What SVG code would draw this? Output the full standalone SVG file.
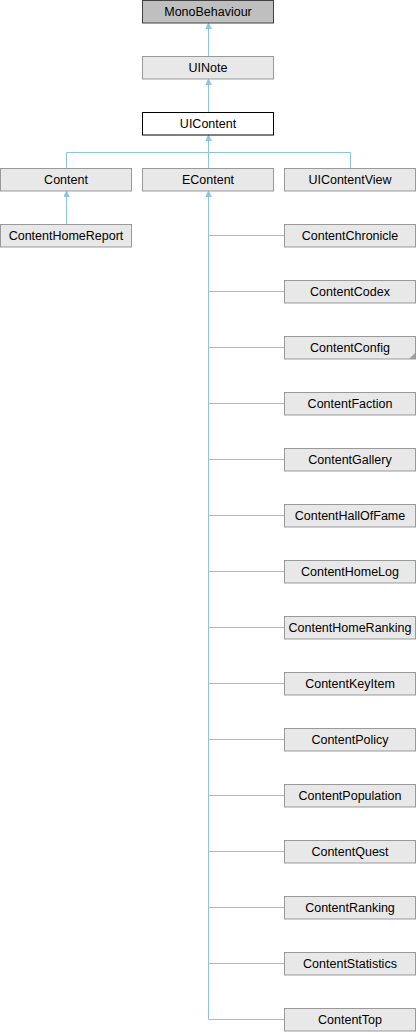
<svg xmlns="http://www.w3.org/2000/svg" width="416" height="1032" viewBox="0 0 416 1032">
<style>
rect{stroke-width:1}
.n rect{fill:#e8e8e8;stroke:#999999}
.base rect{fill:#bfbfbf;stroke:#404040}
.cur rect{fill:#ffffff;stroke:#000000}
text{font-family:"Liberation Sans",Arial,sans-serif;font-size:12.5px;fill:#000;text-anchor:middle}
.e{fill:none;stroke:#8ac3e6;stroke-width:1}
.up{marker-start:url(#arr)}
</style>
<defs>
<marker id="arr" viewBox="0 0 10 10" refX="10" refY="5" markerWidth="6" markerHeight="6" markerUnits="userSpaceOnUse" orient="auto-start-reverse">
<path d="M0,0 L10,5 L0,10 z" fill="#8ac3e6" stroke="#8ac3e6"/>
</marker>
</defs>
<g id="connectors">
<path class="e up" d="M208.5,23 V56.5"/>
<path class="e up" d="M208.5,79 V112.5"/>
<path class="e up" d="M208.5,135 V152.5 H66.5 V168.5 M208.5,152.5 H350.5 V168.5 M208.5,152.5 V168.5"/>
<path class="e up" d="M66.5,191 V224.5"/>
<path class="e up" d="M208.5,191 V1019.5 H284.5"/>
<path class="e" d="M208.5,235.5 H284.5"/>
<path class="e" d="M208.5,291.5 H284.5"/>
<path class="e" d="M208.5,347.5 H284.5"/>
<path class="e" d="M208.5,403.5 H284.5"/>
<path class="e" d="M208.5,459.5 H284.5"/>
<path class="e" d="M208.5,515.5 H284.5"/>
<path class="e" d="M208.5,571.5 H284.5"/>
<path class="e" d="M208.5,627.5 H284.5"/>
<path class="e" d="M208.5,683.5 H284.5"/>
<path class="e" d="M208.5,739.5 H284.5"/>
<path class="e" d="M208.5,795.5 H284.5"/>
<path class="e" d="M208.5,851.5 H284.5"/>
<path class="e" d="M208.5,907.5 H284.5"/>
<path class="e" d="M208.5,963.5 H284.5"/>
</g>
<g id="MonoBehaviour" class="base"><rect x="142.5" y="0.5" width="131" height="22.5"/><text x="208" y="16">MonoBehaviour</text></g>
<g id="UINote" class="n"><rect x="142.5" y="56.5" width="131" height="22.5"/><text x="208" y="72">UINote</text></g>
<g id="UIContent" class="cur"><rect x="142.5" y="112.5" width="131" height="22.5"/><text x="208" y="128">UIContent</text></g>
<g id="Content" class="n"><rect x="0.5" y="168.5" width="131" height="22.5"/><text x="66" y="184">Content</text></g>
<g id="EContent" class="n"><rect x="142.5" y="168.5" width="131" height="22.5"/><text x="208" y="184">EContent</text></g>
<g id="UIContentView" class="n"><rect x="284.5" y="168.5" width="131" height="22.5"/><text x="350" y="184">UIContentView</text></g>
<g id="ContentHomeReport" class="n"><rect x="0.5" y="224.5" width="131" height="22.5"/><text x="66" y="240">ContentHomeReport</text></g>
<g id="ContentChronicle" class="n"><rect x="284.5" y="224.5" width="131" height="22.5"/><text x="350" y="240">ContentChronicle</text></g>
<g id="ContentCodex" class="n"><rect x="284.5" y="280.5" width="131" height="22.5"/><text x="350" y="296">ContentCodex</text></g>
<g id="ContentConfig" class="n"><rect x="284.5" y="336.5" width="131" height="22.5"/><text x="350" y="352">ContentConfig</text><polygon points="409,359 415,359 415,353" fill="#a0a0a0"/></g>
<g id="ContentFaction" class="n"><rect x="284.5" y="392.5" width="131" height="22.5"/><text x="350" y="408">ContentFaction</text></g>
<g id="ContentGallery" class="n"><rect x="284.5" y="448.5" width="131" height="22.5"/><text x="350" y="464">ContentGallery</text></g>
<g id="ContentHallOfFame" class="n"><rect x="284.5" y="504.5" width="131" height="22.5"/><text x="350" y="520">ContentHallOfFame</text></g>
<g id="ContentHomeLog" class="n"><rect x="284.5" y="560.5" width="131" height="22.5"/><text x="350" y="576">ContentHomeLog</text></g>
<g id="ContentHomeRanking" class="n"><rect x="284.5" y="616.5" width="131" height="22.5"/><text x="350" y="632">ContentHomeRanking</text></g>
<g id="ContentKeyItem" class="n"><rect x="284.5" y="672.5" width="131" height="22.5"/><text x="350" y="688">ContentKeyItem</text></g>
<g id="ContentPolicy" class="n"><rect x="284.5" y="728.5" width="131" height="22.5"/><text x="350" y="744">ContentPolicy</text></g>
<g id="ContentPopulation" class="n"><rect x="284.5" y="784.5" width="131" height="22.5"/><text x="350" y="800">ContentPopulation</text></g>
<g id="ContentQuest" class="n"><rect x="284.5" y="840.5" width="131" height="22.5"/><text x="350" y="856">ContentQuest</text></g>
<g id="ContentRanking" class="n"><rect x="284.5" y="896.5" width="131" height="22.5"/><text x="350" y="912">ContentRanking</text></g>
<g id="ContentStatistics" class="n"><rect x="284.5" y="952.5" width="131" height="22.5"/><text x="350" y="968">ContentStatistics</text></g>
<g id="ContentTop" class="n"><rect x="284.5" y="1008.5" width="131" height="22.5"/><text x="350" y="1024">ContentTop</text></g>
</svg>
